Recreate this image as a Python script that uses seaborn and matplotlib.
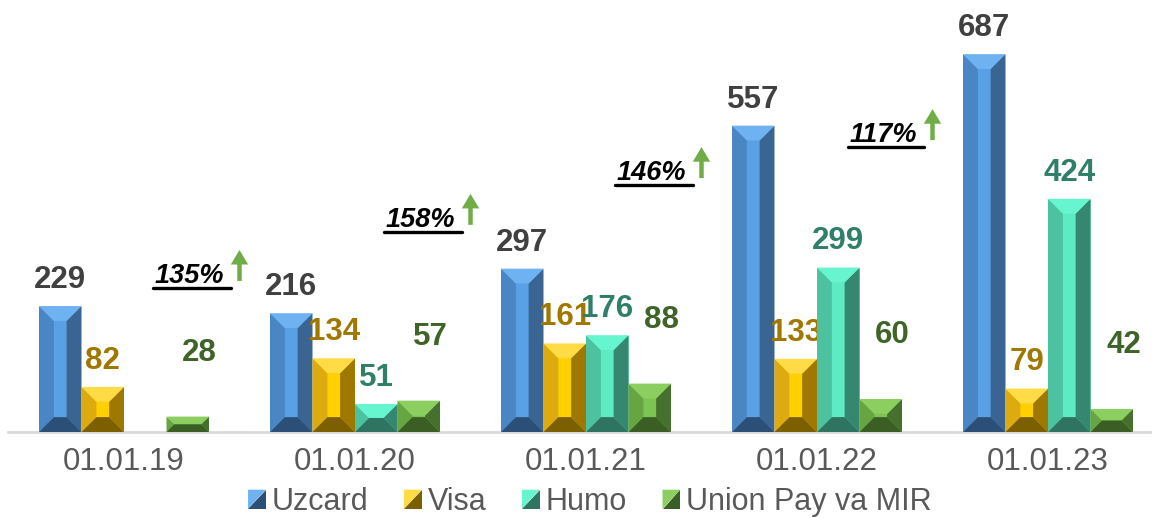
import pandas as pd
import seaborn as sns
import matplotlib.pyplot as plt
from matplotlib.patches import Polygon
from matplotlib.lines import Line2D
from matplotlib.legend_handler import HandlerBase

# data
dates = ['01.01.19', '01.01.20', '01.01.21', '01.01.22', '01.01.23']
cards = ['Uzcard', 'Visa', 'Humo', 'Union Pay va MIR']
uzcard = [229, 216, 297, 557, 687]
visa = [82, 134, 161, 133, 79]
humo = [None, 51, 176, 299, 424]
union = [28, 57, 88, 60, 42]
growth = ['135%', '158%', '146%', '117%']
growth_y = [271, 373, 458, 527]

rows = []
for card, vals in zip(cards, [uzcard, visa, humo, union]):
    for d, v in zip(dates, vals):
        if v is not None:
            rows.append({'date': d, 'card': card, 'value': v})
df = pd.DataFrame(rows)

# bevel colours: top, left, centre, right, bottom
faces = {
    'Uzcard': ['#6FB2F2', '#4A86C4', '#5AA0E4', '#3A6593', '#2C4F78'],
    'Visa': ['#FFDB45', '#DDAA10', '#FFD000', '#9E7800', '#7C6000'],
    'Humo': ['#66F5CE', '#4CC2A0', '#5EEAC2', '#35876F', '#2F7460'],
    'Union Pay va MIR': ['#8CCF60', '#66A542', '#7DC552', '#46702D', '#3A5E24'],
}
label_colors = {'Uzcard': '#404040', 'Visa': '#A07800',
                'Humo': '#2F7F6A', 'Union Pay va MIR': '#3F6428'}

sns.set_style('white')
plt.rcParams['font.family'] = ['Liberation Sans', 'DejaVu Sans']

fig = plt.figure(figsize=(11.52, 5.18), dpi=100)
ax = fig.add_axes([8 / 1152, 1 - 432 / 518, 1142 / 1152, 432 / 518])

sns.barplot(data=df, x='date', y='value', hue='card', hue_order=cards,
            palette=[faces[c][2] for c in cards], saturation=1, width=0.736,
            errorbar=None, legend=False, ax=ax)

ax.set_xlim(-116 / 231, 1026 / 231)
ax.set_ylim(0, 432 / 0.55)
ax.set_xlabel('')
ax.set_ylabel('')
ax.set_yticks([])
for s in ['left', 'top', 'right']:
    ax.spines[s].set_visible(False)
ax.spines['bottom'].set_color('#D9D9D9')
ax.spines['bottom'].set_linewidth(2)
ax.tick_params(axis='x', length=0, pad=11, labelsize=22.5, labelcolor='#595959')

# pixels per data unit
p = ax.transData.transform([[0, 0], [1, 1]])
px_x = p[1, 0] - p[0, 0]
px_y = p[1, 1] - p[0, 1]

# bevel faces on top of each bar + value labels
for card, cont in zip(cards, ax.containers):
    top_c, left_c, mid_c, right_c, bot_c = faces[card]
    for bar in cont:
        x0, y0 = bar.get_x(), bar.get_y()
        w, h = bar.get_width(), bar.get_height()
        if h != h or h == 0:
            continue
        x1, y1 = x0 + w, y0 + h
        d = min(15, w * px_x * 0.35, h * px_y / 2)
        dx, dy = d / px_x, d / px_y
        i0, i1, j0, j1 = x0 + dx, x1 - dx, y0 + dy, y1 - dy
        polys = [
            ([(x0, y0), (x0, y1), (i0, j1), (i0, j0)], left_c),
            ([(x1, y0), (x1, y1), (i1, j1), (i1, j0)], right_c),
            ([(x0, y1), (x1, y1), (i1, j1), (i0, j1)], top_c),
            ([(x0, y0), (x1, y0), (i1, j0), (i0, j0)], bot_c),
        ]
        for pts, c in polys:
            ax.add_patch(Polygon(pts, closed=True, facecolor=c, edgecolor='none', zorder=3))
        if card == 'Union Pay va MIR':
            off = (8.5, 40)
        else:
            off = (0, 13)
        ax.annotate(str(int(h)), xy=(x0 + w / 2, y1), xytext=off,
                    textcoords='offset points', ha='center', va='baseline',
                    fontsize=22.5, fontweight='bold', color=label_colors[card])

# growth annotations
fig.canvas.draw()
renderer = fig.canvas.get_renderer()
for i, (g, gy) in enumerate(zip(growth, growth_y)):
    xa = i + 0.5
    t = ax.annotate(g, xy=(xa, gy), xytext=(-11, 0), textcoords='offset points',
                    ha='right', va='baseline', fontsize=19.5, fontweight='bold',
                    fontstyle='italic', color='black')
    bb = t.get_window_extent(renderer)
    base = ax.transData.transform((xa, gy))[1]
    inv = fig.transFigure.inverted()
    (fx0, fy), (fx1, _) = inv.transform([(bb.x0 - 2, base - 5), (bb.x1 + 7, base - 5)])
    fig.add_artist(Line2D([fx0, fx1], [fy, fy], color='black', lw=2.4))
    ax.annotate('', xy=(xa, gy + 33 / px_y), xytext=(xa, gy + 2 / px_y),
                arrowprops=dict(facecolor='#70AD47', edgecolor='none', width=3.2,
                                headwidth=12.5, headlength=10.5, shrink=0))


class BevelHandler(HandlerBase):
    def create_artists(self, legend, orig_handle, xdescent, ydescent,
                       width, height, fontsize, trans):
        light, dark = orig_handle
        x0, y0 = -xdescent, -ydescent
        a = Polygon([(x0, y0 + height), (x0 + width, y0 + height), (x0, y0)],
                    facecolor=light, edgecolor='none', transform=trans)
        b = Polygon([(x0 + width, y0 + height), (x0 + width, y0), (x0, y0)],
                    facecolor=dark, edgecolor='none', transform=trans)
        return [a, b]


handles = [(faces[c][0], faces[c][4]) for c in cards]
fig.legend(handles, cards, handler_map={tuple: BevelHandler()},
           loc='center', bbox_to_anchor=(590 / 1152, 1 - 502 / 518), ncol=4,
           frameon=False, fontsize=22, handlelength=0.58, handleheight=0.58,
           handletextpad=0.2, columnspacing=1.16, labelcolor='#595959',
           borderpad=0, borderaxespad=0)

fig.savefig('out.png', dpi=100)
